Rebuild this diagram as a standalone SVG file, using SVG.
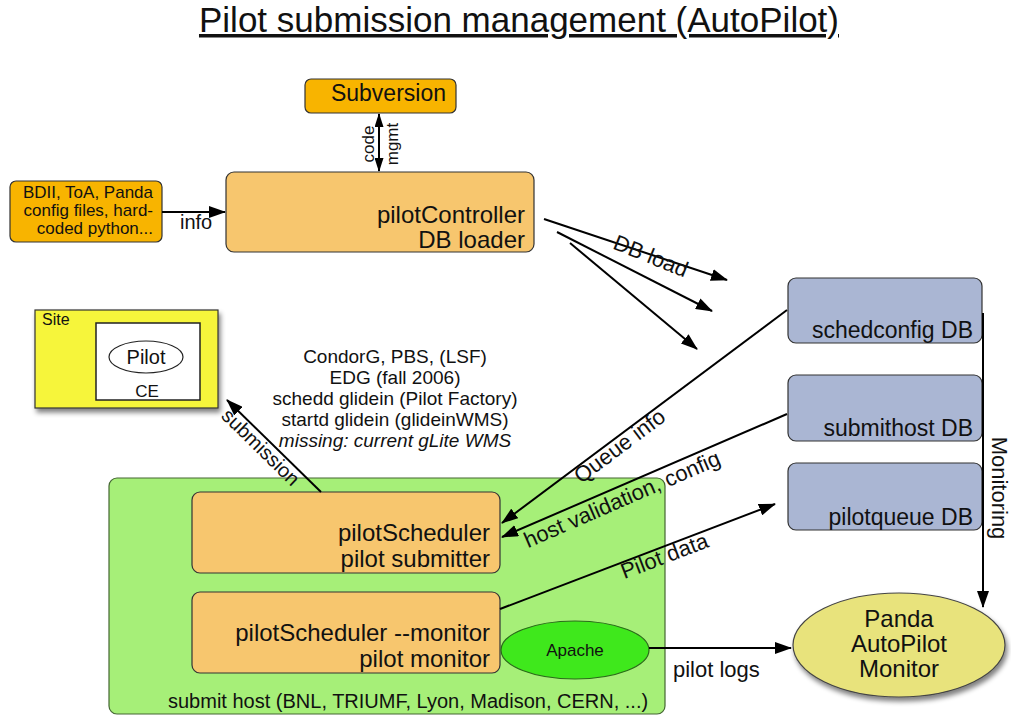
<svg xmlns="http://www.w3.org/2000/svg" width="1011" height="717" viewBox="0 0 1011 717">
<style>
text{font-family:"Liberation Sans",Arial,sans-serif;fill:#111}
.box{stroke:#333;stroke-width:1.2}
.org{fill:#f8b400}
.lorg{fill:#f7c66e}
.db{fill:#aab6d3}
.ln{stroke:#000;stroke-width:2;fill:none}
.r{text-anchor:end}
.c{text-anchor:middle}
</style>
<defs>
<marker id="ah" viewBox="0 0 17 12" refX="16" refY="6" markerWidth="17" markerHeight="12" markerUnits="userSpaceOnUse" orient="auto-start-reverse">
<path d="M0,0 L17,6 L0,12 Z" fill="#000"/>
</marker>
<marker id="ahs" viewBox="0 0 14 9" refX="13" refY="4.5" markerWidth="14" markerHeight="9" markerUnits="userSpaceOnUse" orient="auto-start-reverse">
<path d="M0,0 L14,4.5 L0,9 Z" fill="#000"/>
</marker>
<filter id="sh" x="-10%" y="-10%" width="130%" height="130%">
<feGaussianBlur in="SourceAlpha" stdDeviation="2.5"/>
<feOffset dx="2" dy="4" result="b"/>
<feComponentTransfer><feFuncA type="linear" slope="0.5"/></feComponentTransfer>
<feMerge><feMergeNode/><feMergeNode in="SourceGraphic"/></feMerge>
</filter>
</defs>
<rect width="1011" height="717" fill="#fff"/>
<text x="519" y="32" class="c" font-size="35" text-decoration="underline">Pilot submission management (AutoPilot)</text>

<g id="subversion">
<rect x="305" y="79" width="151" height="34" rx="6" class="box org"/>
<text x="446" y="101" class="r" font-size="23">Subversion</text>
</g>
<g id="sources">
<rect x="10" y="181" width="152" height="61" rx="6" class="box org"/>
<text x="153" y="198" class="r" font-size="17">BDII, ToA, Panda</text>
<text x="153" y="216" class="r" font-size="17">config files, hard-</text>
<text x="153" y="234" class="r" font-size="17">coded python...</text>
</g>
<g id="pilotController">
<rect x="226" y="172" width="308" height="80" rx="8" class="box lorg"/>
<text x="525" y="223" class="r" font-size="24">pilotController</text>
<text x="525" y="248" class="r" font-size="24">DB loader</text>
</g>
<g id="schedconfig">
<rect x="788" y="278" width="194" height="65" rx="8" class="box db"/>
<text x="973" y="338" class="r" font-size="23">schedconfig DB</text>
</g>
<g id="submithost">
<rect x="788" y="375" width="194" height="66" rx="8" class="box db"/>
<text x="973" y="436" class="r" font-size="23">submithost DB</text>
</g>
<g id="pilotqueue">
<rect x="788" y="463" width="194" height="67" rx="8" class="box db"/>
<text x="973" y="525" class="r" font-size="23">pilotqueue DB</text>
</g>
<g id="site">
<rect x="35" y="310" width="183" height="98" class="box" fill="#f6f53a" filter="url(#sh)"/>
<text x="42" y="325" font-size="16">Site</text>
<rect x="96" y="323" width="104" height="77" fill="#fff" stroke="#222" stroke-width="1.5"/>
<ellipse cx="146" cy="357" rx="37" ry="16" fill="#fff" stroke="#222" stroke-width="1.2"/>
<text x="146" y="364" class="c" font-size="20">Pilot</text>
<text x="147" y="397" class="c" font-size="17">CE</text>
</g>
<g id="submitters">
<text x="395" y="363" class="c" font-size="19">CondorG, PBS, (LSF)</text>
<text x="395" y="384" class="c" font-size="19">EDG (fall 2006)</text>
<text x="395" y="405" class="c" font-size="19">schedd glidein (Pilot Factory)</text>
<text x="395" y="426" class="c" font-size="19">startd glidein (glideinWMS)</text>
<text x="395" y="447" class="c" font-size="19" font-style="italic">missing: current gLite WMS</text>
</g>
<g id="submithostbox">
<rect x="109" y="478" width="556" height="236" rx="8" fill="#a6ef78" stroke="#446633" stroke-width="1.2"/>
<text x="168" y="708" font-size="20">submit host (BNL, TRIUMF, Lyon, Madison, CERN, ...)</text>
</g>
<g id="pilotScheduler">
<rect x="192" y="492" width="308" height="81" rx="8" class="box lorg"/>
<text x="490" y="541" class="r" font-size="24">pilotScheduler</text>
<text x="490" y="567" class="r" font-size="24">pilot submitter</text>
</g>
<g id="pilotMonitor">
<rect x="192" y="592" width="308" height="81" rx="8" class="box lorg"/>
<text x="490" y="641" class="r" font-size="24">pilotScheduler --monitor</text>
<text x="490" y="667" class="r" font-size="24">pilot monitor</text>
</g>
<g id="apache">
<ellipse cx="575" cy="650" rx="74" ry="29" fill="#3fe81c" stroke="#2a6a1a" stroke-width="1.2"/>
<text x="575" y="656" class="c" font-size="17">Apache</text>
</g>
<g id="pandaMonitor">
<ellipse cx="899" cy="645" rx="106" ry="52" fill="#e8e37c" stroke="#444" stroke-width="1.2" filter="url(#sh)"/>
<text x="899" y="627" class="c" font-size="24">Panda</text>
<text x="899" y="652" class="c" font-size="24">AutoPilot</text>
<text x="899" y="677" class="c" font-size="24">Monitor</text>
</g>

<g id="connectors">
<line x1="379" y1="114" x2="379" y2="171" class="ln" marker-start="url(#ahs)" marker-end="url(#ahs)"/>
<text transform="translate(374,144) rotate(-90)" class="c" font-size="17">code</text>
<text transform="translate(398,144) rotate(-90)" class="c" font-size="17">mgmt</text>
<line x1="162" y1="212" x2="225" y2="212" class="ln" marker-end="url(#ah)"/>
<text x="180" y="229" font-size="20">info</text>
<line x1="544" y1="219" x2="727" y2="280" class="ln" marker-end="url(#ah)"/>
<line x1="557" y1="232" x2="712" y2="311" class="ln" marker-end="url(#ah)"/>
<line x1="570" y1="243" x2="697" y2="349" class="ln" marker-end="url(#ah)"/>
<text transform="translate(648,263) rotate(22)" class="c" font-size="22">DB load</text>
<line x1="787" y1="310" x2="502" y2="523" class="ln" marker-end="url(#ah)"/>
<text transform="translate(624,452) rotate(-36.8)" class="c" font-size="22">Queue info</text>
<line x1="787" y1="414" x2="502" y2="537" class="ln" marker-end="url(#ah)"/>
<text transform="translate(625,506) rotate(-23.5)" class="c" font-size="22">host validation, config</text>
<line x1="500" y1="609" x2="775" y2="504" class="ln" marker-end="url(#ah)"/>
<text transform="translate(667,563) rotate(-20.9)" class="c" font-size="22">Pilot data</text>
<line x1="321" y1="492" x2="227" y2="400" class="ln" marker-end="url(#ah)"/>
<text transform="translate(256,452) rotate(44.5)" class="c" font-size="20">submission</text>
<line x1="649" y1="648" x2="791" y2="648" class="ln" marker-end="url(#ah)"/>
<text x="673" y="677" font-size="22">pilot logs</text>
<line x1="983" y1="313" x2="983" y2="607" class="ln" marker-end="url(#ah)"/>
<text transform="translate(992,488) rotate(90)" class="c" font-size="22">Monitoring</text>
</g>
</svg>
